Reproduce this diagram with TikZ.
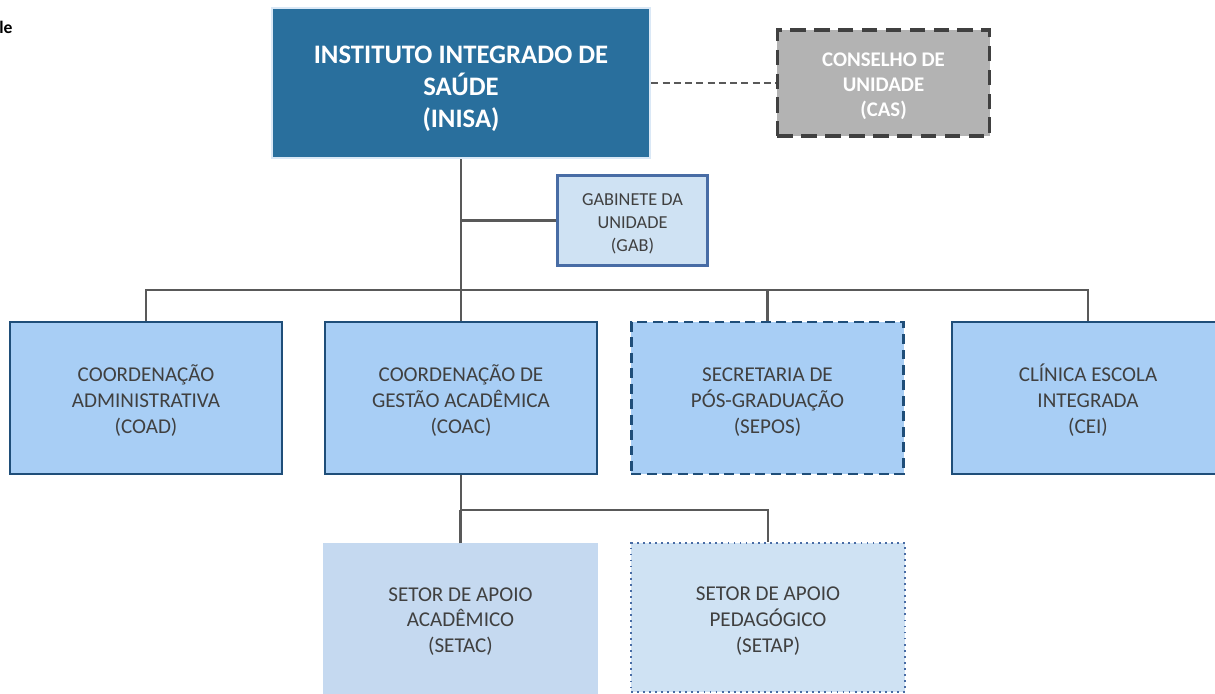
\documentclass[tikz,border=0pt]{standalone}
\usepackage{fontspec}
\setmainfont{Carlito}
\usepackage{tikz}
\usetikzlibrary{positioning,calc}

\definecolor{inisablue}{RGB}{41,111,157}
\definecolor{inisaedge}{RGB}{218,232,246}
\definecolor{unitfill}{RGB}{168,206,245}
\definecolor{unitedge}{RGB}{31,78,121}
\definecolor{gabfill}{RGB}{207,226,243}
\definecolor{gabedge}{RGB}{72,108,165}
\definecolor{setacfill}{RGB}{197,217,240}
\definecolor{casfill}{RGB}{179,179,179}
\definecolor{casedge}{RGB}{64,64,64}
\definecolor{linkgray}{RGB}{89,89,89}
\definecolor{textgray}{RGB}{64,64,64}

% centred lines, lowered a little inside the box
\newcommand{\boxlines}[2][3.2pt]{\raisebox{-#1}[\height][\depth]{\begin{tabular}{@{}c@{}}#2\end{tabular}}}

\begin{document}
\begin{tikzpicture}[
    x=0.025cm, y=-0.025cm,
    topnode/.style={
        draw=inisaedge,
        fill=inisablue,
        line width=2pt,
        minimum width=9.45cm,
        minimum height=3.75cm,
        inner sep=0pt,
        text=white,
        font=\fontsize{19}{22.7}\selectfont\bfseries
    },
    casnode/.style={
        draw=casedge,
        fill=casfill,
        line width=2.6pt,
        dash pattern=on 11pt off 6pt,
        minimum width=5.3cm,
        minimum height=2.65cm,
        inner sep=0pt,
        text=white,
        font=\fontsize{14.8}{17.7}\selectfont\bfseries
    },
    gabnode/.style={
        draw=gabedge,
        fill=gabfill,
        line width=1.6pt,
        minimum width=3.75cm,
        minimum height=2.25cm,
        inner sep=0pt,
        text=textgray,
        font=\fontsize{13}{16.3}\selectfont
    },
    unitnode/.style={
        draw=unitedge,
        fill=unitfill,
        line width=2pt,
        minimum width=6.8cm,
        minimum height=3.8cm,
        inner sep=0pt,
        text=textgray,
        font=\fontsize{15}{18.4}\selectfont
    },
    subnode/.style={
        draw=setacfill,
        fill=setacfill,
        line width=1pt,
        minimum width=6.85cm,
        minimum height=3.75cm,
        inner sep=0pt,
        text=textgray,
        font=\fontsize{15}{18.4}\selectfont
    },
    link/.style={
        draw=linkgray,
        line width=1.5pt
    }
]
    \clip (0,0) rectangle (1215,694);
    \useasboundingbox (0,0) rectangle (1215,694);

    % Cut-off caption
    \node[anchor=west, inner sep=0pt, font=\fontsize{12.5}{15}\selectfont\bfseries] (caption) at (-1,27) {le};

    % Direction
    \node[topnode] (inisa) at (461,83) {\boxlines[4.3pt]{INSTITUTO INTEGRADO DE\\SAÚDE\\(INISA)}};
    \node[casnode] (cas) at (883.5,83) {\boxlines[2.7pt]{CONSELHO DE\\UNIDADE\\(CAS)}};
    \node[gabnode] (gab) at (632.5,220.5) {\boxlines[2.7pt]{GABINETE DA\\UNIDADE\\(GAB)}};

    % Coordinations
    \node[unitnode] (coad) at (146,398) {\boxlines{COORDENAÇÃO\\ADMINISTRATIVA\\(COAD)}};
    \node[unitnode] (coac) at (461,398) {\boxlines{COORDENAÇÃO DE\\GESTÃO ACADÊMICA\\(COAC)}};
    \node[unitnode, dash pattern=on 7pt off 4pt] (sepos) at (767.5,398) {\boxlines{SECRETARIA DE\\PÓS-GRADUAÇÃO\\(SEPOS)}};
    \node[unitnode] (cei) at (1088,398) {\boxlines{CLÍNICA ESCOLA\\INTEGRADA\\(CEI)}};

    % Sectors
    \node[subnode] (setac) at (460.5,619) {\boxlines[2pt]{SETOR DE APOIO\\ACADÊMICO\\(SETAC)}};
    \node[subnode, draw=gabedge, line width=1.4pt, dash pattern=on 1.3pt off 3pt, fill=gabfill,
        minimum width=6.85cm, minimum height=3.72cm] (setap) at (768,617.5) {\boxlines[2.8pt]{SETOR DE APOIO\\PEDAGÓGICO\\(SETAP)}};

    % Links
    \coordinate (bus) at (461,290);
    \coordinate (subbus) at (768,510);
    \draw[link, line width=1pt, dash pattern=on 5pt off 3pt] (inisa.east) -- (cas.west);
    \draw[link] (inisa.south) -- (coac.north);
    \draw[link] (gab.west) -- (gab.west -| inisa.south);
    \draw[link] (coad.north) |- (bus) -| (cei.north);
    \draw[link] (sepos.north) -- (sepos.north |- bus);
    \draw[link] (coac.south) |- (subbus) -| (setap.north);
    \draw[link] (setac.north) -- (setac.north |- subbus);
\end{tikzpicture}
\end{document}
